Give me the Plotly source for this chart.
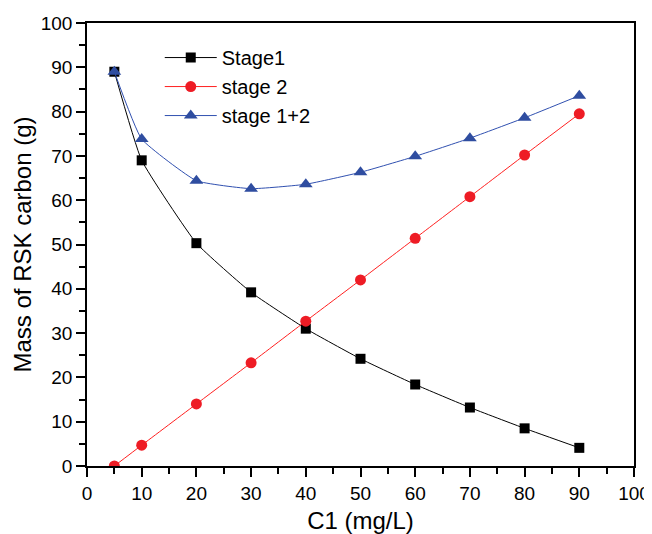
import plotly.graph_objects as go

c1 = [5, 10, 20, 30, 40, 50, 60, 70, 80, 90]
stage1 = [89.0, 69.0, 50.3, 39.2, 31.0, 24.2, 18.4, 13.2, 8.5, 4.1]
stage2 = [0.0, 4.7, 14.0, 23.3, 32.7, 42.0, 51.4, 60.8, 70.2, 79.5]
stage12 = [89.0, 73.8, 64.4, 62.6, 63.6, 66.3, 69.9, 74.0, 78.6, 83.6]

fig = go.Figure()
fig.add_trace(go.Scatter(x=c1, y=stage1, name="Stage1", mode="lines+markers",
                         line=dict(color="black", width=1, shape="spline", smoothing=0.4),
                         marker=dict(symbol="square", size=10, color="black")))
fig.add_trace(go.Scatter(x=c1, y=stage2, name="stage 2", mode="lines+markers",
                         line=dict(color="#ff2020", width=1, shape="spline", smoothing=0.4),
                         marker=dict(symbol="circle", size=11, color="#ee1c25")))
fig.add_trace(go.Scatter(x=c1, y=stage12, name="stage 1+2", mode="lines+markers",
                         line=dict(color="#3050b0", width=1, shape="spline", smoothing=0.4),
                         marker=dict(symbol="triangle-up", size=12, color="#2f4da0")))

axis_common = dict(showline=True, linecolor="black", linewidth=1.5, mirror=True,
                   ticks="outside", ticklen=9, tickwidth=1.5, tickcolor="black",
                   showgrid=False, zeroline=False,
                   tickfont=dict(family="Liberation Sans, Arial", size=19, color="black"),
                   minor=dict(ticks="outside", ticklen=6, tickwidth=1.5, tickcolor="black", dtick=5))

fig.update_layout(
    width=652, height=534,
    paper_bgcolor="white", plot_bgcolor="white",
    margin=dict(l=79, r=26, t=15, b=76, autoexpand=False),
    font=dict(family="Liberation Sans, Arial", color="black"),
    xaxis=dict(range=[0, 100], dtick=10, tick0=0,
               title=dict(text="C1 (mg/L)", font=dict(size=24), standoff=10), **axis_common),
    yaxis=dict(range=[0, 100], dtick=10, tick0=0,
               title=dict(text="Mass of RSK carbon (g)", font=dict(size=24), standoff=2), **axis_common),
    legend=dict(x=0.133, y=0.966, xanchor="left", yanchor="top", bgcolor="rgba(0,0,0,0)",
                font=dict(size=20), itemwidth=52, tracegroupgap=0),
    showlegend=True,
)

fig.write_html("out.html")
